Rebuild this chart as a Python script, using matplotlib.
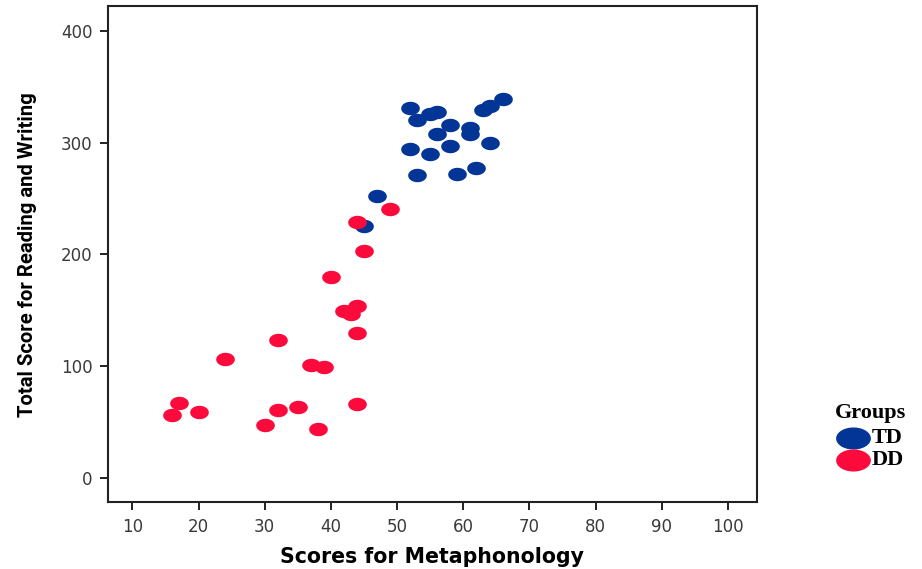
import matplotlib
matplotlib.use("Agg")
import matplotlib.pyplot as plt
import numpy as np
from matplotlib.path import Path
from matplotlib.lines import Line2D

# TD group (typically developing)
td_meta = [52, 53, 55, 56, 63, 64, 66, 58, 56, 61, 61, 52, 55, 58, 64, 53, 59, 62, 47, 45]
td_total = [331, 320, 326, 327, 329, 333, 339, 316, 308, 313, 308, 294, 290, 297, 300, 271, 272, 277, 252, 225]

# DD group (dyslexic)
dd_meta = [49, 44, 45, 40, 44, 42, 43, 44, 32, 24, 37, 39, 17, 16, 20, 32, 35, 44, 30, 38]
dd_total = [241, 229, 203, 180, 154, 149, 147, 130, 123, 106, 101, 99, 67, 56, 59, 61, 63, 66, 47, 44]

groups = ["TD", "DD"]
x_ticks = [10, 20, 30, 40, 50, 60, 70, 80, 90, 100]
y_ticks = [0, 100, 200, 300, 400]

BLUE = "#023595"
RED = "#fc0a3c"


def ellipse_marker(ratio):
    # SPSS draws flattened dots, a circle marker looks too round
    t = np.linspace(0, 2 * np.pi, 60)
    return Path(np.column_stack([np.cos(t), ratio * np.sin(t)]), closed=True)


dot = ellipse_marker(0.72)
big_dot = ellipse_marker(0.62)

fig = plt.figure(figsize=(9.22, 5.69), dpi=100)
ax = fig.add_axes([0.117, 0.117, 0.704, 0.872])

ax.scatter(td_meta, td_total, s=180, marker=dot, color=BLUE, linewidths=0, zorder=3)
ax.scatter(dd_meta, dd_total, s=180, marker=dot, color=RED, linewidths=0, zorder=4)

ax.set_xlim(6.3, 104.4)
ax.set_ylim(-22, 422)
ax.set_xticks(x_ticks)
ax.set_yticks(y_ticks)
ax.tick_params(direction="out", length=6, width=1.4, colors="#222222",
               labelsize=12, labelcolor="#3a3a3a", pad=5)
for side in ax.spines.values():
    side.set_linewidth(1.5)
    side.set_color("#222222")

ax.set_xlabel("Scores for Metaphonology", fontsize=14.8, fontweight="bold", labelpad=8)
ax.set_ylabel("Total Score for Reading and Writing", family="Roboto",
              fontsize=14.6, fontweight="bold", labelpad=17)

# legend drawn by hand, to the right of the plot area
serif = {"family": "Liberation Serif", "weight": "bold", "size": 16}
fig.text(0.906, 0.274, "Groups", ha="left", va="center", fontdict=serif)
for i, (name, col) in enumerate(zip(groups, [BLUE, RED])):
    yy = 0.230 - i * 0.039
    fig.add_artist(Line2D([0.925], [yy], transform=fig.transFigure, linestyle="none",
                          marker=big_dot, markersize=24, color=col))
    fig.text(0.945, yy, name, ha="left", va="center", fontdict=serif)

fig.savefig("out.png", dpi=100)
